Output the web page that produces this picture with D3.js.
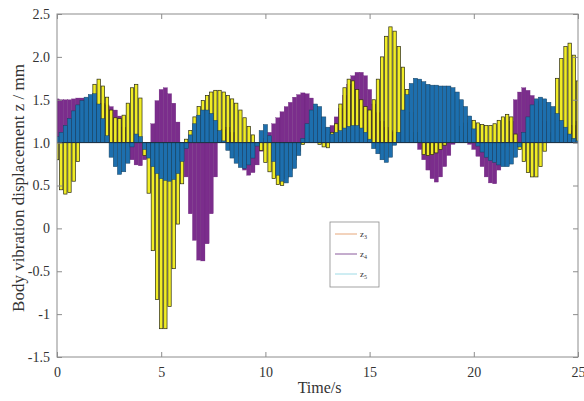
<!DOCTYPE html>
<meta charset="utf-8">
<style>
body { margin: 0; background: #fff; }
svg text { font-family: "Liberation Serif", "Times New Roman", serif; fill: #333; }
.axis path { display: none; }
.axis line { stroke: #8c8c8c; }
</style>
<body>
<svg id="chart" width="584" height="401"></svg>
<script src="https://cdn.jsdelivr.net/npm/d3@7"></script>
<script>
// time steps every 0.2 s, 0..25
var times = d3.range(0, 126).map(function(i) { return +(i * 0.2).toFixed(1); });

var z3 = [0.80,0.45,0.40,0.42,0.55,0.78,1.10,1.35,1.52,1.68,
          1.74,1.66,1.53,1.38,1.29,1.28,1.32,1.46,1.64,1.68,
          1.52,0.85,0.41,-0.26,-0.83,-1.17,-1.17,-0.91,-0.47,0.05,
          0.52,1.04,1.14,1.30,1.42,1.49,1.55,1.59,1.61,1.61,
          1.59,1.55,1.51,1.46,1.38,1.29,1.19,1.09,0.98,0.91,
          0.77,0.66,0.58,0.51,0.50,0.58,0.68,0.80,0.90,0.98,
          1.03,1.05,1.03,0.98,0.95,0.94,1.12,1.22,1.45,1.64,
          1.74,1.72,1.62,1.50,1.42,1.38,1.50,1.74,2.00,2.24,
          2.35,2.30,2.12,1.88,1.62,1.35,1.12,1.02,0.86,0.85,
          0.86,0.88,0.92,0.97,1.02,1.08,1.14,1.19,1.23,1.26,
          1.26,1.23,1.21,1.20,1.20,1.22,1.26,1.30,1.33,1.30,
          1.10,0.92,0.78,0.65,0.60,0.60,0.72,0.90,1.10,1.30,
          1.75,1.98,2.12,2.16,2.02,1.72];

var z4 = [1.51,1.50,1.50,1.50,1.51,1.52,1.52,1.50,1.48,1.47,
          1.46,1.46,1.44,1.42,1.38,1.31,1.18,0.92,0.80,0.74,
          0.73,0.80,0.98,1.22,1.49,1.62,1.64,1.57,1.46,1.24,
          0.90,0.60,0.17,-0.14,-0.37,-0.38,-0.18,0.17,0.60,1.05,
          1.15,1.18,1.12,1.00,0.84,0.68,0.62,0.65,0.74,0.90,
          1.05,1.12,1.22,1.29,1.36,1.42,1.47,1.53,1.56,1.58,
          1.57,1.52,1.42,1.30,1.18,1.14,1.20,1.30,1.40,1.55,
          1.68,1.78,1.82,1.82,1.78,1.62,1.45,1.35,1.25,1.18,
          1.14,1.12,1.10,1.10,1.08,1.05,1.01,0.92,0.80,0.68,
          0.58,0.54,0.60,0.72,0.85,0.98,1.08,1.12,1.08,0.98,
          0.92,0.84,0.72,0.60,0.53,0.52,0.68,0.80,0.95,1.25,
          1.50,1.59,1.64,1.61,1.55,1.48,1.38,1.25,1.12,1.03,
          1.00,1.03,1.08,1.14,1.20,1.25];

var z5 = [1.07,1.12,1.20,1.28,1.37,1.44,1.49,1.53,1.56,1.57,
          1.45,1.28,1.08,0.83,0.72,0.63,0.66,0.76,0.95,1.10,
          1.07,0.92,0.82,0.72,0.64,0.58,0.56,0.55,0.57,0.64,
          0.78,0.93,1.09,1.22,1.32,1.38,1.38,1.34,1.26,1.14,
          1.02,0.91,0.82,0.76,0.71,0.70,0.74,0.82,0.96,1.14,
          1.21,1.08,0.78,0.62,0.55,0.53,0.60,0.70,0.85,1.05,
          1.22,1.38,1.45,1.42,1.30,1.18,1.10,1.12,1.14,1.17,
          1.19,1.20,1.20,1.17,1.12,1.04,0.93,0.87,0.80,0.77,
          0.83,0.97,1.12,1.38,1.56,1.69,1.75,1.74,1.71,1.68,
          1.67,1.67,1.66,1.66,1.66,1.64,1.59,1.50,1.42,1.31,
          1.16,0.96,0.89,0.83,0.79,0.77,0.74,0.72,0.72,0.75,
          0.83,0.95,1.12,1.30,1.44,1.51,1.53,1.51,1.47,1.42,
          1.34,1.26,1.18,1.10,1.05,1.02];

var xTicks = [0, 5, 10, 15, 20, 25];
var yTicks = [-1.5, -1, -0.5, 0, 0.5, 1, 1.5, 2, 2.5];
var yTickLabels = ["-1.5", "-1", "-0.5", "0", "0.5", "1.0", "1.5", "2.0", "2.5"];
var legendNames = ["3", "4", "5"];

var margin = {top: 14, right: 6, bottom: 44, left: 57},
    width = 584 - margin.left - margin.right,
    height = 401 - margin.top - margin.bottom;

var svg = d3.select("#chart");
var g = svg.append("g")
    .attr("transform", "translate(" + margin.left + "," + margin.top + ")");

var x = d3.scaleLinear().domain([0, 25]).range([0, width]);
var y = d3.scaleLinear().domain([-1.5, 2.5]).range([height, 0]);
var base = 1.0;
var step = x(0.2) - x(0);

g.append("clipPath").attr("id", "clip")
  .append("rect").attr("width", width).attr("height", height);

var plot = g.append("g").attr("clip-path", "url(#clip)");

// draw order: z4 at the back, z3, then z5 on top
var series = [
  {vals: z4, fill: "#7b2d8c", stroke: "#6a2479", w: 1.0, sw: 0.3},
  {vals: z3, fill: "#f0ec26", stroke: "#2a2a10", w: 0.8, sw: 0.7},
  {vals: z5, fill: "#1d6fae", stroke: "#17405f", w: 1.0, sw: 0.5}
];

series.forEach(function(s) {
  plot.append("g").selectAll("rect")
    .data(times)
    .enter().append("rect")
      .attr("x", function(t) { return x(t) - step * s.w / 2; })
      .attr("width", step * s.w)
      .attr("y", function(t, i) { return Math.min(y(s.vals[i]), y(base)); })
      .attr("height", function(t, i) { return Math.abs(y(s.vals[i]) - y(base)); })
      .attr("fill", s.fill)
      .attr("stroke", s.stroke)
      .attr("stroke-width", s.sw);
});

// baseline
plot.append("line")
    .attr("x1", 0).attr("x2", width)
    .attr("y1", y(base)).attr("y2", y(base))
    .attr("stroke", "#1a2a3a").attr("stroke-width", 0.8);

// axes, ticks pointing inward on all four sides
g.append("g").attr("class", "axis")
    .attr("transform", "translate(0," + height + ")")
    .call(d3.axisBottom(x).tickValues(xTicks).tickSizeInner(-5).tickSizeOuter(0).tickPadding(10))
    .selectAll("text").style("font-size", "14px");

g.append("g").attr("class", "axis")
    .call(d3.axisTop(x).tickValues(xTicks).tickSizeInner(-5).tickSizeOuter(0).tickFormat(""));

g.append("g").attr("class", "axis")
    .call(d3.axisLeft(y).tickValues(yTicks).tickSizeInner(-5).tickSizeOuter(0).tickPadding(7)
      .tickFormat(function(d, i) { return yTickLabels[i]; }))
    .selectAll("text").style("font-size", "14px");

g.append("g").attr("class", "axis")
    .attr("transform", "translate(" + width + ",0)")
    .call(d3.axisRight(y).tickValues(yTicks).tickSizeInner(-5).tickSizeOuter(0).tickFormat(""));

g.append("rect")
    .attr("width", width).attr("height", height)
    .attr("fill", "none").attr("stroke", "#8c8c8c").attr("stroke-width", 1);

// axis titles
svg.append("text")
    .attr("x", margin.left + x(12.6)).attr("y", 393)
    .attr("text-anchor", "middle").style("font-size", "16px")
    .text("Time/s");

svg.append("text")
    .attr("transform", "translate(24,188) rotate(-90)")
    .attr("text-anchor", "middle").style("font-size", "17px")
    .text("Body vibration displacement z / mm");

// legend
var legendColors = ["#e6a77a", "#8a5a9c", "#9edbe6"];
var lg = svg.append("g").attr("transform", "translate(330,222)");
lg.append("rect").attr("width", 49).attr("height", 65)
    .attr("fill", "#fff").attr("stroke", "#8c8c8c").attr("stroke-width", 0.8);
legendNames.forEach(function(n, i) {
  var yy = 12 + i * 20;
  lg.append("line").attr("x1", 5).attr("x2", 27).attr("y1", yy).attr("y2", yy)
    .attr("stroke", legendColors[i]).attr("stroke-width", 1);
  var t = lg.append("text").attr("x", 30).attr("y", yy + 3).style("font-size", "9px");
  t.append("tspan").text("z");
  t.append("tspan").attr("dy", 2).style("font-size", "6px").text(n);
});
</script>
</body>
